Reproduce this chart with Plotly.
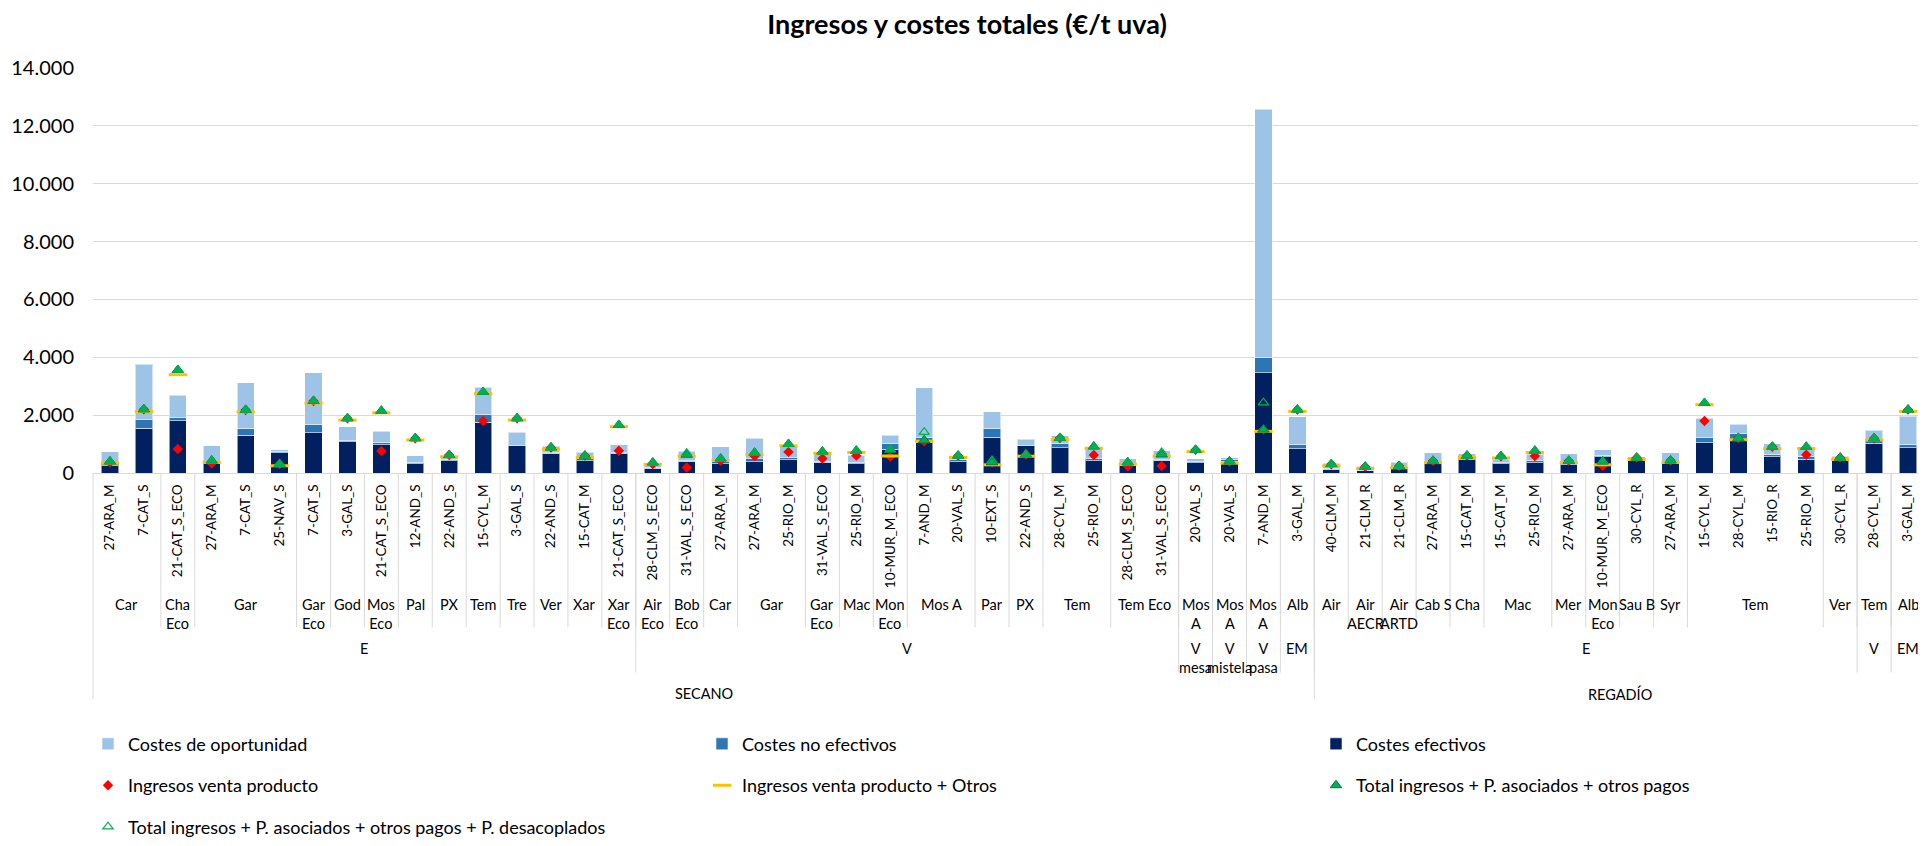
import plotly.graph_objects as go

# ---------------- data ----------------
categorias = [
    "27-ARA_M", "7-CAT_S", "21-CAT_S_ECO", "27-ARA_M", "7-CAT_S", "25-NAV_S", "7-CAT_S", "3-GAL_S",
    "21-CAT_S_ECO", "12-AND_S", "22-AND_S", "15-CYL_M", "3-GAL_S", "22-AND_S", "15-CAT_M", "21-CAT_S_ECO",
    "28-CLM_S_ECO", "31-VAL_S_ECO", "27-ARA_M", "27-ARA_M", "25-RIO_M", "31-VAL_S_ECO", "25-RIO_M",
    "10-MUR_M_ECO", "7-AND_M", "20-VAL_S", "10-EXT_S", "22-AND_S", "28-CYL_M", "25-RIO_M", "28-CLM_S_ECO",
    "31-VAL_S_ECO", "20-VAL_S", "20-VAL_S", "7-AND_M", "3-GAL_M",
    "40-CLM_M", "21-CLM_R", "21-CLM_R", "27-ARA_M", "15-CAT_M", "15-CAT_M", "25-RIO_M", "27-ARA_M",
    "10-MUR_M_ECO", "30-CYL_R", "27-ARA_M", "15-CYL_M", "28-CYL_M", "15-RIO_R", "25-RIO_M", "30-CYL_R",
    "28-CYL_M", "3-GAL_M",
]
variedad = [
    "Car", "Car", "Cha<br>Eco", "Gar", "Gar", "Gar", "Gar<br>Eco", "God", "Mos<br>Eco", "Pal", "PX", "Tem",
    "Tre", "Ver", "Xar", "Xar<br>Eco",
    "Air<br>Eco", "Bob<br>Eco", "Car", "Gar", "Gar", "Gar<br>Eco", "Mac", "Mon<br>Eco", "Mos A", "Mos A",
    "Par", "PX", "Tem", "Tem", "Tem Eco", "Tem Eco",
    "Mos<br>A", "Mos<br>A", "Mos<br>A", "Alb",
    "Air", "Air<br>AECR", "Air<br>ARTD", "Cab S", "Cha", "Mac", "Mac", "Mer", "Mon<br>Eco", "Sau B", "Syr",
    "Tem", "Tem", "Tem", "Tem", "Ver",
    "Tem", "Alb",
]
tipo = (["E"] * 16 + ["V"] * 16 + ["V<br>mesa", "V<br>mistela", "V<br>pasa", "EM"]
        + ["E"] * 16 + ["V", "EM"])
cultivo = ["SECANO"] * 36 + ["REGADÍO"] * 18

costes_efectivos = [
    250, 1550, 1810, 316, 1300, 700, 1400, 1085, 985, 316, 430, 1763, 940, 690, 430, 690,
    158, 407, 316, 384, 452, 373, 328, 825, 1050, 395, 1243, 938, 881, 429, 271, 441,
    362, 407, 3458, 847,
    136, 79, 147, 316, 452, 316, 362, 294, 554, 429, 316, 1051, 1164, 554, 475, 418,
    1028, 870,
]
costes_no_efectivos = [
    90, 290, 120, 91, 225, 57, 260, 25, 65, 46, 33, 271, 20, 30, 78, 33,
    23, 34, 91, 124, 90, 34, 34, 192, 170, 57, 282, 22, 136, 79, 29, 34,
    45, 45, 518, 136,
    34, 21, 33, 57, 79, 57, 56, 68, 68, 57, 68, 181, 192, 101, 79, 57,
    147, 113,
]
costes_oportunidad = [
    400, 1920, 760, 543, 1595, 45, 1800, 485, 395, 238, 113, 926, 452, 207, 204, 260,
    124, 305, 508, 690, 418, 283, 248, 283, 1720, 90, 588, 204, 271, 339, 186, 293,
    90, 79, 8594, 961,
    169, 137, 193, 327, 136, 102, 226, 305, 180, 79, 316, 666, 328, 362, 361, 101,
    305, 983,
]
ingresos_venta = [
    360, 2200, 830, 330, 2180, 310, 2490, 1890, 760, 1200, 620, 1800, 1890, 880, 600, 770,
    310, 190, 420, 590, 730, 500, 600, 565, 1100, 600, 370, 640, 1210, 620, 230, 240,
    800, 400, 1500, 2190,
    305, 215, 240, 420, 600, 580, 590, 420, 250, 530, 430, 1800, 1210, 905, 630, 530,
    1200, 2190,
]
ingresos_venta_otros = [
    340, 2130, 3400, 370, 2110, 250, 2420, 1830, 2080, 1140, 560, 2740, 1830, 820, 540, 1600,
    300, 580, 440, 640, 940, 680, 710, 588, 1100, 540, 282, 580, 1150, 855, 310, 580,
    740, 340, 1440, 2130,
    245, 155, 180, 360, 540, 520, 710, 360, 283, 470, 370, 2360, 1150, 845, 845, 470,
    1140, 2130,
]
total_ingresos = [
    400, 2200, 3560, 430, 2180, 310, 2490, 1890, 2150, 1200, 620, 2800, 1890, 880, 600, 1660,
    360, 630, 500, 700, 1000, 740, 770, 790, 1130, 600, 370, 640, 1210, 915, 370, 640,
    800, 400, 1500, 2190,
    305, 215, 240, 420, 600, 580, 770, 420, 396, 530, 430, 2420, 1210, 905, 905, 530,
    1200, 2190,
]
total_ingresos_desacoplados = [
    400, 2200, 3560, 430, 2180, 310, 2490, 1890, 2150, 1200, 620, 2800, 1890, 880, 600, 1660,
    360, 680, 500, 700, 1000, 740, 770, 820, 1410, 600, 430, 640, 1210, 915, 370, 710,
    800, 400, 2430, 2190,
    305, 215, 240, 420, 600, 580, 770, 420, 396, 530, 430, 2420, 1210, 905, 905, 530,
    1200, 2190,
]

# ---------------- layout constants ----------------
OFF = 8                      # page body margin
W, H = 1926 - OFF, 846 - OFF
ML, MR, MT, MB = 93 - OFF, 1, 68 - OFF, 366
PH = H - MT - MB
PW = W - ML - MR
FONT = "Lato, Carlito, Calibri, sans-serif"
GRID = "#D9D9D9"


def py(real_y):
    """screen pixel row -> paper y"""
    return ((H - MB) - (real_y - OFF)) / PH


def px(real_x):
    """screen pixel column -> paper x"""
    return ((real_x - OFF) - ML) / PW


x = list(range(len(categorias)))

fig = go.Figure()

bar_line = dict(color="rgba(255,255,255,0.55)", width=1)
fig.add_trace(go.Bar(x=x, y=costes_efectivos, name="Costes efectivos",
                     marker=dict(color="#002060", line=bar_line),
                     legend="legend3", legendgroup="ce"))
fig.add_trace(go.Bar(x=x, y=costes_no_efectivos, name="Costes no efectivos",
                     marker=dict(color="#2E75B6", line=bar_line),
                     legend="legend2", legendgroup="cne"))
fig.add_trace(go.Bar(x=x, y=costes_oportunidad, name="Costes de oportunidad",
                     marker=dict(color="#9DC3E6", line=bar_line),
                     legend="legend", legendgroup="co"))

fig.add_trace(go.Scatter(x=x, y=ingresos_venta, mode="markers", name="Ingresos venta producto",
                         marker=dict(symbol="diamond", size=8, color="#FF0000"),
                         cliponaxis=False, legend="legend", legendgroup="iv"))
fig.add_trace(go.Scatter(x=x, y=ingresos_venta_otros, mode="markers",
                         name="Ingresos venta producto + Otros",
                         marker=dict(symbol="line-ew", size=13, color="#FFC000",
                                     line=dict(color="#FFC000", width=3)),
                         cliponaxis=False, legend="legend2", legendgroup="ivo"))
fig.add_trace(go.Scatter(x=x, y=total_ingresos, mode="markers",
                         name="Total ingresos + P. asociados + otros pagos",
                         marker=dict(symbol="triangle-up", size=10, color="#00B050",
                                     line=dict(color="#007A3D", width=1)),
                         cliponaxis=False, legend="legend3", legendgroup="ti"))
fig.add_trace(go.Scatter(x=x, y=total_ingresos_desacoplados, mode="markers",
                         name="Total ingresos + P. asociados + otros pagos + P. desacoplados",
                         marker=dict(symbol="triangle-up-open", size=9, color="#00B050",
                                     line=dict(color="#00B050", width=1.2)),
                         cliponaxis=False, legend="legend", legendgroup="tid"))


# ---------------- multi-level category axis ----------------
def runs(keys):
    out, start = [], 0
    for i in range(1, len(keys) + 1):
        if i == len(keys) or keys[i] != keys[start]:
            out.append((start, i - 1))
            start = i
    return out


k2 = [(cultivo[i], tipo[i], variedad[i]) for i in x]
k3 = [(cultivo[i], tipo[i]) for i in x]
k4 = cultivo

annotations = []
shapes = []
lab_font = dict(family=FONT, size=14.5, color="#000000")

levels = [
    (k2, variedad, 603, 637),
    (k3, tipo, 648, 683),
    (k4, cultivo, 694, 710),
]
for keys, labels, ytop, yline in levels:
    rr = runs(keys)
    for (a, b) in rr:
        annotations.append(dict(x=(a + b) / 2, y=py(ytop), xref="x", yref="paper",
                                text=labels[a], showarrow=False, xanchor="center",
                                yanchor="top", font=lab_font, align="center"))
    for (a, b) in rr[:-1]:
        shapes.append(dict(type="line", xref="x", yref="paper", x0=b + 0.5, x1=b + 0.5,
                           y0=0, y1=py(yline), line=dict(color=GRID, width=1)))
# outer edges
for xe in (0, 1):
    shapes.append(dict(type="line", xref="paper", yref="paper", x0=xe, x1=xe,
                       y0=0, y1=py(710), line=dict(color=GRID, width=1)))

leg_common = dict(orientation="v", yanchor="top", xanchor="left", y=py(737),
                  traceorder="grouped", tracegroupgap=15, itemwidth=30,
                  bgcolor="rgba(0,0,0,0)", font=dict(family=FONT, size=18, color="#000000"))

fig.update_layout(
    width=W, height=H,
    margin=dict(l=ML, r=MR, t=MT, b=MB),
    paper_bgcolor="white", plot_bgcolor="white",
    separators=",.",
    barmode="stack", bargap=0.49,
    font=dict(family=FONT, color="#000000"),
    title=dict(text="<b>Ingresos y costes totales (€/t uva)</b>", xref="container", x=0.5,
               xanchor="center", y=1 - (25 - OFF) / H, yanchor="middle",
               font=dict(family=FONT, size=27, color="#000000")),
    xaxis=dict(range=[-0.5, len(categorias) - 0.5], tickmode="array", tickvals=x,
               ticktext=categorias, tickangle=-90, showgrid=False, zeroline=False,
               showline=True, linecolor=GRID, linewidth=1, ticks="outside", ticklen=5,
               tickcolor="rgba(0,0,0,0)", tickfont=dict(family=FONT, size=13.5, color="#000000")),
    yaxis=dict(range=[0, 14000], dtick=2000, tickformat=",.0f", showgrid=True,
               gridcolor=GRID, gridwidth=1, zeroline=False, showline=False,
               ticks="outside", ticklen=14, tickcolor="rgba(0,0,0,0)",
               tickfont=dict(family=FONT, size=20, color="#000000")),
    legend=dict(x=px(88), **leg_common),
    legend2=dict(x=px(702), **leg_common),
    legend3=dict(x=px(1316), **leg_common),
    annotations=annotations,
    shapes=shapes,
    showlegend=True,
)

fig.write_html("out.html")
